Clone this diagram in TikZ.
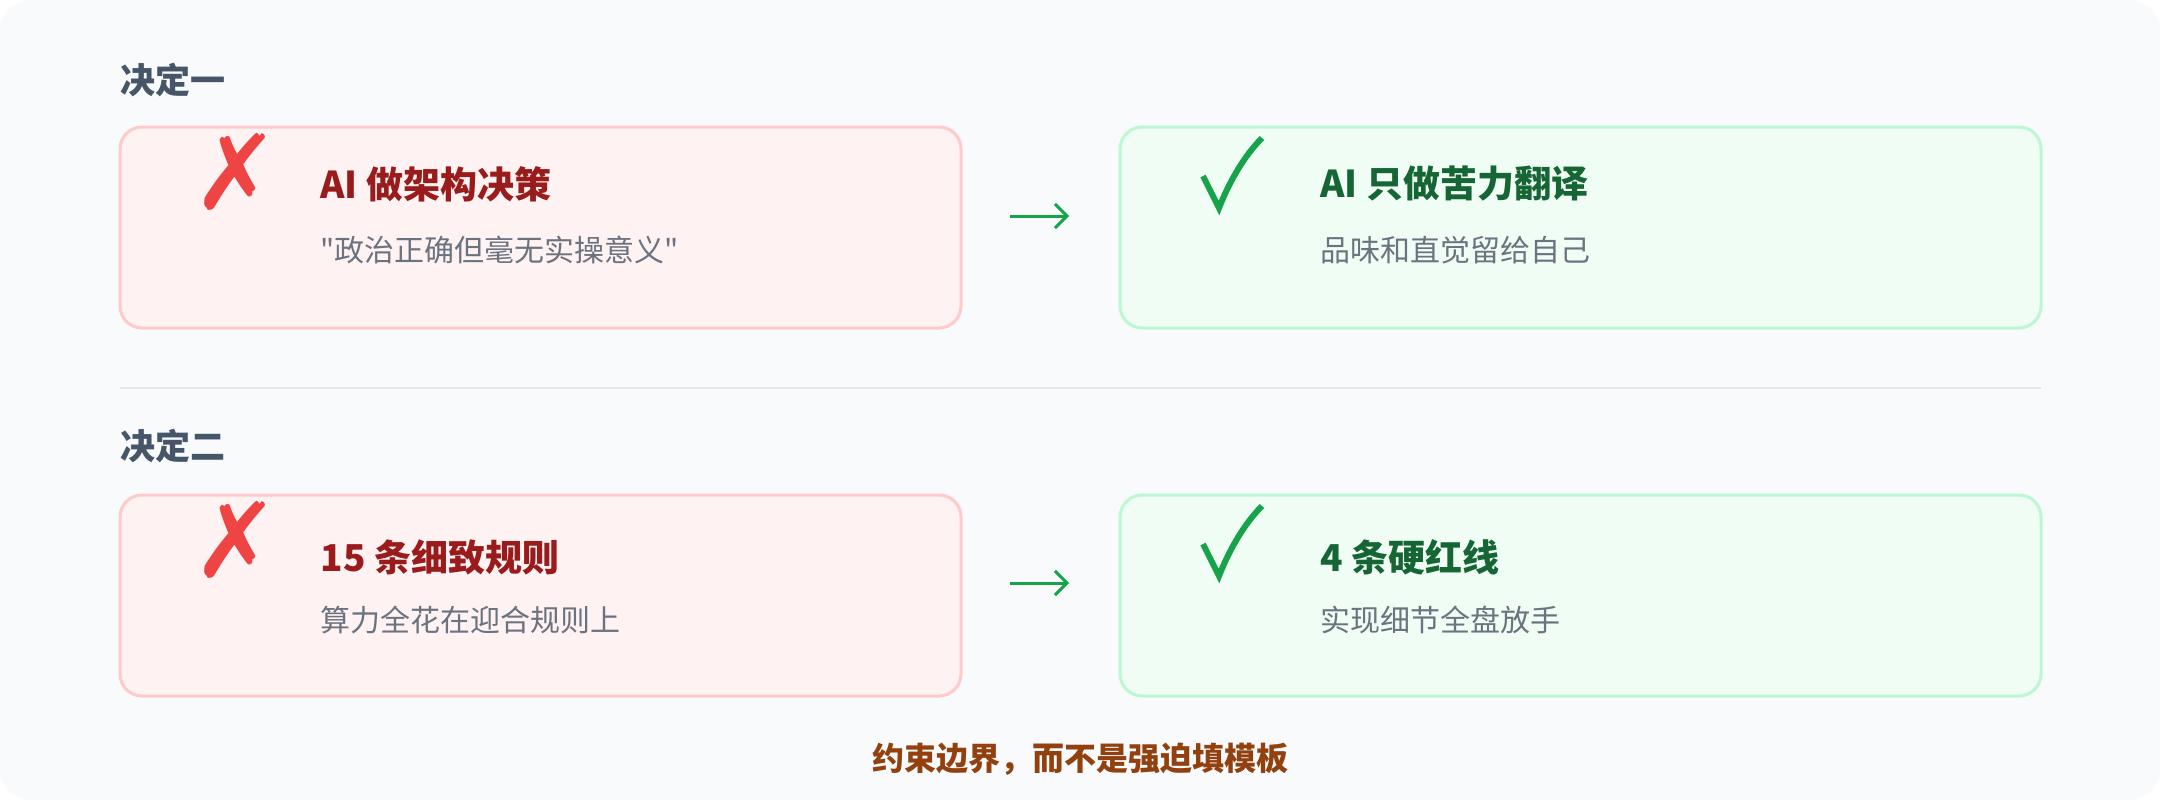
\documentclass[tikz,border=0pt]{standalone}
\usepackage{fontspec}
\usetikzlibrary{arrows.meta}
\setmainfont{Noto Sans CJK SC}
\newfontfamily\cjk{Noto Sans CJK SC}
\newfontfamily\sym{DejaVu Sans}
\definecolor{bg}{HTML}{F8FAFC}
\definecolor{redfill}{HTML}{FEF2F2}
\definecolor{redline}{HTML}{FECACA}
\definecolor{greenfill}{HTML}{F0FDF4}
\definecolor{greenline}{HTML}{BBF7D0}
\definecolor{redtitle}{HTML}{991B1B}
\definecolor{greentitle}{HTML}{166534}
\definecolor{sub}{HTML}{6B7280}
\definecolor{head}{HTML}{475569}
\definecolor{xred}{HTML}{EF4444}
\definecolor{ckgreen}{HTML}{16A34A}
\definecolor{foot}{HTML}{92400E}
\definecolor{sep}{HTML}{E2E8F0}
\begin{document}
\begin{tikzpicture}[x=1pt,y=-1pt,
  bad/.style={draw=redline,fill=redfill,line width=3pt,rounded corners=22pt},
  good/.style={draw=greenline,fill=greenfill,line width=3pt,rounded corners=22pt},
  head/.style={anchor=west,text=head,font=\cjk\bfseries\fontsize{35}{38}\selectfont},
  ttl/.style={anchor=west,font=\cjk\bfseries\fontsize{37}{40}\selectfont},
  subt/.style={anchor=west,text=sub,font=\cjk\fontsize{30}{34}\selectfont},
  xm/.style={text=xred,font=\sym\fontsize{104}{104}\selectfont},
  ck/.style={draw=ckgreen,line width=6pt},
  arr/.style={draw=ckgreen,line width=3pt,-{Straight Barb[length=12pt,width=24pt]}}]
\useasboundingbox (0,0) rectangle (2160,800);
\fill[bg,rounded corners=30pt] (0,0) rectangle (2160,800);
\node[head] (h1) at (117,80) {决定一};
\draw[bad] (120,127) rectangle (961,328);
\draw[good] (1120,127) rectangle (2041,328);
\node[xm] (x1) at (236,172) {✗};
\node[ttl,text=redtitle] (t1) at (317,184) {AI 做架构决策};
\node[subt] (s1) at (317,250) {"政治正确但毫无实操意义"};
\coordinate (c1a) at (1203,176); \coordinate (c1b) at (1219,208); \coordinate (c1c) at (1262,138);
\draw[ck] (c1a) -- (c1b) .. controls (1230,180) and (1245,155) .. (c1c);
\node[ttl,text=greentitle] (t2) at (1317,184) {AI 只做苦力翻译};
\node[subt] (s2) at (1317,250) {品味和直觉留给自己};
\coordinate (a1) at (1010,216); \coordinate (b1) at (1069,216);
\draw[arr] (a1) -- (b1);
\coordinate (l1) at (120,388); \coordinate (l2) at (2041,388);
\draw[sep,line width=2pt] (l1) -- (l2);
\node[head] (h2) at (117,446) {决定二};
\draw[bad] (120,495) rectangle (961,696);
\draw[good] (1120,495) rectangle (2041,696);
\node[xm] (x2) at (236,540) {✗};
\node[ttl,text=redtitle] (t3) at (317,557) {15 条细致规则};
\node[subt] (s3) at (317,620) {算力全花在迎合规则上};
\coordinate (c2a) at (1203,544); \coordinate (c2b) at (1219,576); \coordinate (c2c) at (1262,506);
\draw[ck] (c2a) -- (c2b) .. controls (1230,548) and (1245,523) .. (c2c);
\node[ttl,text=greentitle] (t4) at (1317,557) {4 条硬红线};
\node[subt] (s4) at (1317,620) {实现细节全盘放手};
\coordinate (a2) at (1010,583); \coordinate (b2) at (1069,583);
\draw[arr] (a2) -- (b2);
\node[text=foot,font=\cjk\bfseries\fontsize{32}{36}\selectfont] (f) at (1080,759) {约束边界，而不是强迫填模板};
\end{tikzpicture}
\end{document}
